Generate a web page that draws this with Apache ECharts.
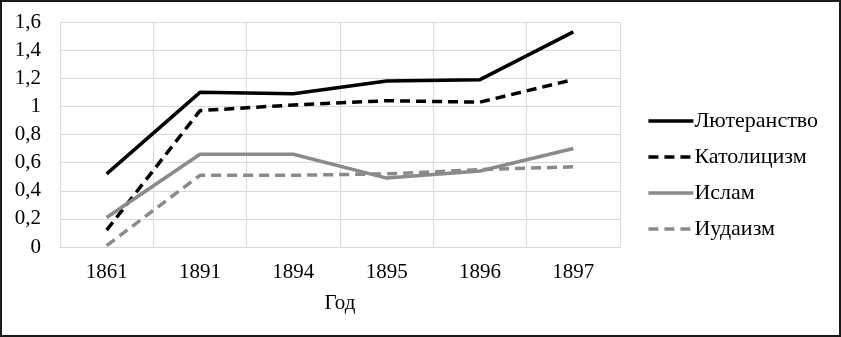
<!DOCTYPE html>
<html>
<head>
<meta charset="utf-8">
<script src="https://cdn.jsdelivr.net/npm/echarts@6/dist/echarts.min.js"></script>
<style>
  html, body { margin: 0; padding: 0; background: #fff; }
  .frame {
    width: 841px;
    height: 337px;
    box-sizing: border-box;
    border: 2px solid #1a1a1a;
  }
  #chart { width: 100%; height: 100%; }
</style>
</head>
<body>
<div class="frame"><div id="chart"></div></div>
<script>
// данные с рисунка
const years = ['1861', '1891', '1894', '1895', '1896', '1897']
const lutheran = [0.52, 1.10, 1.09, 1.18, 1.19, 1.53]
const catholic = [0.12, 0.97, 1.01, 1.04, 1.03, 1.19]
const islam = [0.21, 0.66, 0.66, 0.49, 0.54, 0.70]
const judaism = [0.01, 0.51, 0.51, 0.52, 0.55, 0.57]

const font = 'Liberation Serif, Times New Roman, serif'
const grey = '#8a8a8a'

function lineSeries (name, data, color, dashed) {
  return {
    name: name,
    type: 'line',
    data: data,
    symbol: 'none',
    lineStyle: { color: color, width: 3.5, type: dashed ? [10, 6] : 'solid' },
    itemStyle: { color: color }
  }
}

const chart = echarts.init(document.getElementById('chart'))
chart.setOption({
  animation: false,
  textStyle: { fontFamily: font },
  grid: { left: 58, right: 219, top: 20, bottom: 88 },
  legend: {
    orient: 'vertical',
    right: 16,
    top: 103,
    itemWidth: 45,
    itemHeight: 14,
    itemGap: 14,
    itemStyle: { opacity: 0 },
    lineStyle: { width: 3.5 },
    textStyle: { fontFamily: font, fontSize: 22, color: '#000', padding: [0, 0, 0, -4] },
    data: ['Лютеранство', 'Католицизм', 'Ислам', 'Иудаизм']
  },
  xAxis: {
    type: 'category',
    data: years,
    boundaryGap: true,
    name: 'Год',
    nameLocation: 'middle',
    nameGap: 46,
    nameTextStyle: { fontFamily: font, fontSize: 21, color: '#000' },
    axisLine: { lineStyle: { color: '#d9d9d9', width: 1 } },
    axisTick: { show: false },
    axisLabel: { fontFamily: font, fontSize: 21, color: '#000', margin: 15 },
    splitLine: { show: true, lineStyle: { color: '#d9d9d9', width: 1 } }
  },
  yAxis: {
    type: 'value',
    min: 0,
    max: 1.6,
    interval: 0.2,
    axisLine: { show: false },
    axisTick: { show: false },
    axisLabel: {
      fontFamily: font,
      fontSize: 21,
      color: '#000',
      margin: 19,
      formatter: function (v) {
        return String(Math.round(v * 10) / 10).replace('.', ',')
      }
    },
    splitLine: { lineStyle: { color: '#d9d9d9', width: 1 } }
  },
  series: [
    lineSeries('Лютеранство', lutheran, '#000', false),
    lineSeries('Католицизм', catholic, '#000', true),
    lineSeries('Ислам', islam, grey, false),
    lineSeries('Иудаизм', judaism, grey, true)
  ]
})
</script>
</body>
</html>
